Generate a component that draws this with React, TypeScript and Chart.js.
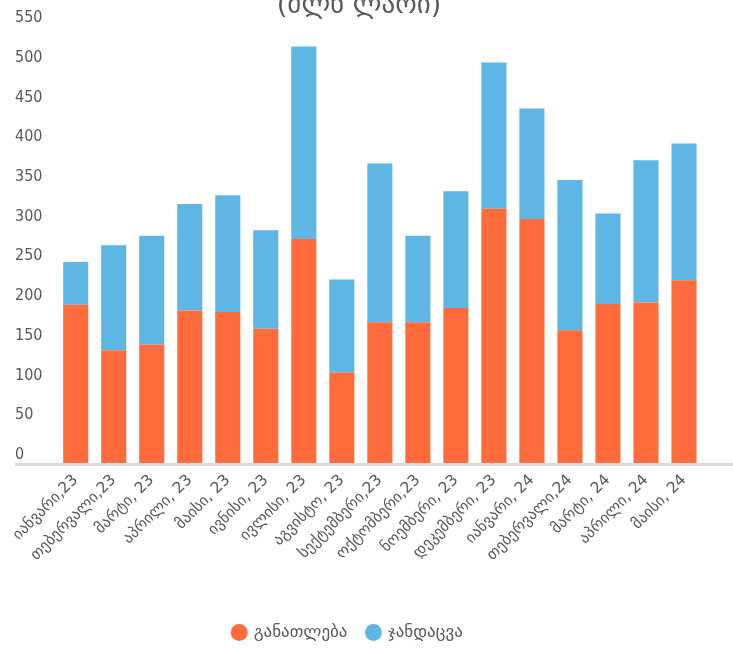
import React, { useEffect, useRef } from "react";
import { Chart, registerables } from "chart.js";

Chart.register(...registerables);

const titleText = "(მლნ ლარი)";
const categories = [
  "იანვარი,23",
  "თებერვალი,23",
  "მარტი, 23",
  "აპრილი, 23",
  "მაისი, 23",
  "ივნისი, 23",
  "ივლისი, 23",
  "აგვისტო, 23",
  "სექტემბერი,23",
  "ოქტომბერი,23",
  "ნოემბერი, 23",
  "დეკემბერი, 23",
  "იანვარი, 24",
  "თებერვალი,24",
  "მარტი, 24",
  "აპრილი, 24",
  "მაისი, 24",
];
const seriesNames = ["განათლება", "ჯანდაცვა"];
const education = [199, 142, 149, 192, 190, 169, 282, 114, 177, 177, 195, 320, 307, 167, 200, 202, 230];
const health = [54, 132, 137, 134, 147, 124, 242, 117, 200, 109, 147, 184, 139, 189, 114, 179, 172];
const yMin = 0;
const yMax = 550;
const yStep = 50;

const ORANGE = "#FF6B3A";
const BLUE = "#5EB6E4";
const TEXT = "#595959";
const SHIFT = 13;
const W = 733;
const H = 664;
const LEGEND_SHIFT = -11;
const GEO_FONT = "'DejaVu Sans', 'DejaVu Sans Condensed'";

const baselinePlugin = {
  id: "baseline",
  afterLayout(chart: any) {
    if (chart.legend) {
      chart.legend.left += LEGEND_SHIFT;
      chart.legend.right += LEGEND_SHIFT;
    }
  },
  beforeDatasetsDraw(chart: any) {
    const { ctx, scales } = chart;
    const y0 = scales.y.getPixelForValue(0);
    ctx.save();
    ctx.strokeStyle = "#D9D9D9";
    ctx.lineWidth = 3;
    ctx.beginPath();
    ctx.moveTo(15, y0 + 1.5);
    ctx.lineTo(chart.width, y0 + 1.5);
    ctx.stroke();
    ctx.restore();
  },
};

export default function App() {
  const ref = useRef<HTMLCanvasElement | null>(null);

  useEffect(() => {
    if (!ref.current) return;
    const chart = new Chart(ref.current, {
      type: "bar",
      data: {
        labels: categories,
        datasets: [
          {
            label: seriesNames[0],
            data: education,
            backgroundColor: ORANGE,
            borderWidth: 0,
            barPercentage: 0.66,
            categoryPercentage: 1,
          },
          {
            label: seriesNames[1],
            data: health,
            backgroundColor: BLUE,
            borderWidth: 0,
            barPercentage: 0.66,
            categoryPercentage: 1,
          },
        ],
      },
      options: {
        responsive: false,
        animation: false,
        layout: { padding: { left: 15, right: 30, top: 0, bottom: 0 } },
        plugins: {
          title: {
            display: true,
            text: titleText,
            color: TEXT,
            font: { family: GEO_FONT, size: 27, weight: "normal" },
            padding: { top: 3, bottom: 3.5 },
          },
          legend: {
            position: "bottom",
            labels: {
              usePointStyle: true,
              pointStyle: "circle",
              boxWidth: 12,
              boxHeight: 12,
              padding: 20,
              color: TEXT,
              font: { family: GEO_FONT, size: 17 },
            },
          },
          tooltip: { enabled: false },
        },
        scales: {
          x: {
            stacked: true,
            grid: { display: false, drawTicks: false },
            border: { display: false },
            ticks: {
              autoSkip: false,
              minRotation: 45,
              maxRotation: 45,
              padding: 8,
              color: TEXT,
              font: { family: GEO_FONT, size: 15.5 },
            },
            afterFit: (s: any) => {
              s.height = 141;
            },
          },
          y: {
            stacked: true,
            min: yMin,
            max: yMax,
            grid: { display: false, drawTicks: false },
            border: { display: false },
            ticks: {
              stepSize: yStep,
              crossAlign: "far",
              labelOffset: -8,
              color: TEXT,
              font: { family: "'Liberation Sans Narrow', 'DejaVu Sans Condensed'", size: 16 },
            },
            afterFit: (s: any) => {
              s.width = 41.7;
            },
          },
        },
      },
      plugins: [baselinePlugin],
    });
    return () => chart.destroy();
  }, []);

  return (
    <div style={{ position: "fixed", left: 0, top: 0, width: W, height: 648, overflow: "hidden", background: "#fff" }}>
      <canvas
        ref={ref}
        width={W}
        height={H}
        style={{ display: "block", width: W, height: H, marginTop: -SHIFT }}
      />
    </div>
  );
}
